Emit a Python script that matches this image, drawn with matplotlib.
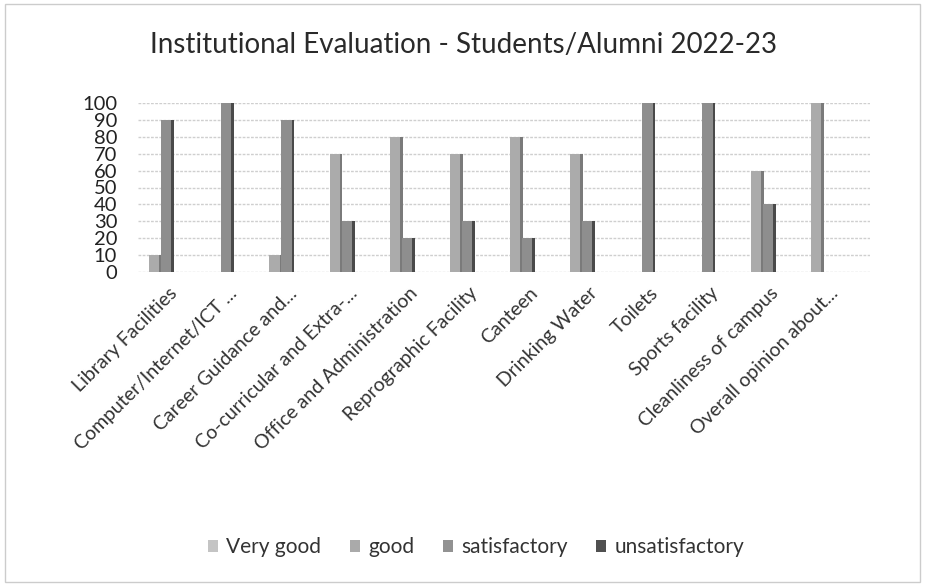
import numpy as np
import matplotlib.pyplot as plt
from matplotlib.patches import Rectangle
from matplotlib.patches import Patch

plt.rcParams['font.family'] = ['Lato', 'DejaVu Sans']

categories = ["Library Facilities", "Computer/Internet/ICT ...", "Career Guidance and...",
              "Co-curricular and Extra-...", "Office and Administration", "Reprographic Facility",
              "Canteen", "Drinking Water", "Toilets", "Sports facility",
              "Cleanliness of campus", "Overall opinion about..."]
very_good = [10, 0, 10, 70, 80, 70, 80, 70, 0, 0, 60, 100]
good = [90, 100, 90, 30, 20, 30, 20, 30, 100, 100, 40, 0]
satisfactory = [0] * 12
unsatisfactory = [0] * 12

series = ["Very good", "good", "satisfactory", "unsatisfactory"]
values = [very_good, good, satisfactory, unsatisfactory]
face = ["#ababab", "#8e8e8e", "#7d7d7d", "#555555"]
side = ["#7a7a7a", "#4a4a4a", "#444444", "#333333"]
legend_col = ["#c4c4c4", "#aaaaaa", "#929292", "#505050"]

fig = plt.figure(figsize=(9.26, 5.85), dpi=100)
ax = fig.add_axes([138 / 926, 1 - 272 / 585, (870 - 138) / 926, (272 - 103) / 585])

x = np.arange(len(categories))
w = 0.17
for i, vals in enumerate(values):
    pos = x - 0.23 + 0.2 * i
    # front face plus a darker side strip for the 3D look
    ax.bar(pos, vals, width=w, color=face[i], zorder=3 + i)
    ax.bar(pos + w / 2 + 0.022, vals, width=0.045, color=side[i], zorder=3 + i)

ax.set_xlim(-0.5, 11.67)
ax.set_ylim(0, 100)
ax.set_yticks(range(0, 101, 10))
ax.yaxis.grid(True, color="#cfcfcf", linestyle=(0, (2, 1)), linewidth=1, zorder=0)
for s in ax.spines.values():
    s.set_visible(False)
ax.tick_params(axis='y', length=0, pad=15, labelsize=14.5, labelcolor="#222222")
ax.tick_params(axis='x', length=0, pad=9)
ax.set_xticks(x)
ax.set_xticklabels(categories, rotation=45, ha='right', rotation_mode='anchor',
                   fontsize=14, color="#333333")

fig.text(0.5, 1 - 45 / 585, "Institutional Evaluation - Students/Alumni 2022-23",
         ha='center', va='center', fontsize=20, color="#2a2a2a")

handles = [Patch(facecolor=c, label=s) for c, s in zip(legend_col, series)]
fig.legend(handles=handles, loc='center', bbox_to_anchor=(476 / 926, 1 - 547 / 585), ncol=4,
           frameon=False, fontsize=15, handlelength=0.5, handleheight=0.5,
           handletextpad=0.4, columnspacing=1.35, labelcolor="#333333")

fig.patches.append(Rectangle((5 / 926, 3 / 585), 915 / 926, 578 / 585, transform=fig.transFigure,
                             fill=False, edgecolor="#cccccc", linewidth=1))

fig.savefig("out.png", dpi=100, facecolor="white")
